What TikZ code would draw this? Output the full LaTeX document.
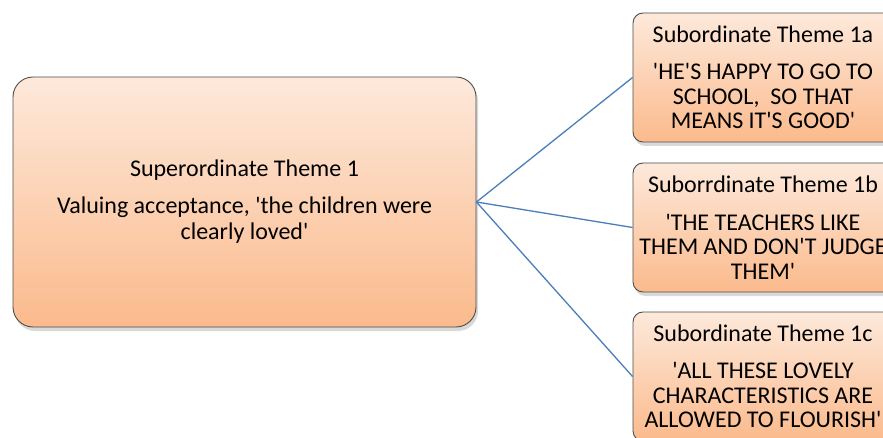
\documentclass[tikz,border=0pt]{standalone}
\usepackage{fontspec}
\setmainfont{Carlito}[Ligatures=TeXOff]
\usetikzlibrary{shadows}
\definecolor{peachtop}{RGB}{253,233,219}
\definecolor{peachbot}{RGB}{251,186,140}
\definecolor{linkblue}{RGB}{74,126,187}
\tikzset{
  themebox/.style={draw=black!70, line width=.9pt, top color=peachtop,
    bottom color=peachbot, align=center, inner sep=0pt,
    drop shadow={opacity=.3, shadow xshift=2pt, shadow yshift=-4pt}},
  supbox/.style={themebox, rounded corners=20pt, minimum width=463pt,
    minimum height=250pt, font=\fontsize{24}{26}\selectfont},
  subbox/.style={themebox, rounded corners=10pt, minimum width=260pt,
    minimum height=129pt, font=\fontsize{24}{24.5}\selectfont},
  link/.style={draw=linkblue, line width=1.3pt}
}
\begin{document}
\begin{tikzpicture}[x=1pt,y=-1pt]
  \useasboundingbox (0,0) rectangle (883,438);
  \def\subx{763}
  % 上位主题
  \node[supbox] (sup1) at (244.5,202)
    {Superordinate Theme 1\\[11pt]
     Valuing acceptance, 'the children were\\ clearly loved'};
  % 下位主题
  \node[subbox] (sub1a) at (\subx,77.5)
    {Subordinate Theme 1a\\[13pt]
     'HE'S HAPPY TO GO TO\\ SCHOOL,\ \ SO THAT\\ MEANS IT'S GOOD'};
  \node[subbox] (sub1b) at (\subx,227.5)
    {Suborrdinate Theme 1b\\[13pt]
     'THE TEACHERS LIKE\\ THEM AND DON'T JUDGE\\ THEM'};
  \node[subbox] (sub1c) at (\subx,376.5)
    {Subordinate Theme 1c\\[13pt]
     'ALL THESE LOVELY\\ CHARACTERISTICS ARE\\ ALLOWED TO FLOURISH'};
  \draw[link] (sup1.east) -- (sub1a.west);
  \draw[link] (sup1.east) -- (sub1b.west);
  \draw[link] (sup1.east) -- (sub1c.west);
\end{tikzpicture}
\end{document}
